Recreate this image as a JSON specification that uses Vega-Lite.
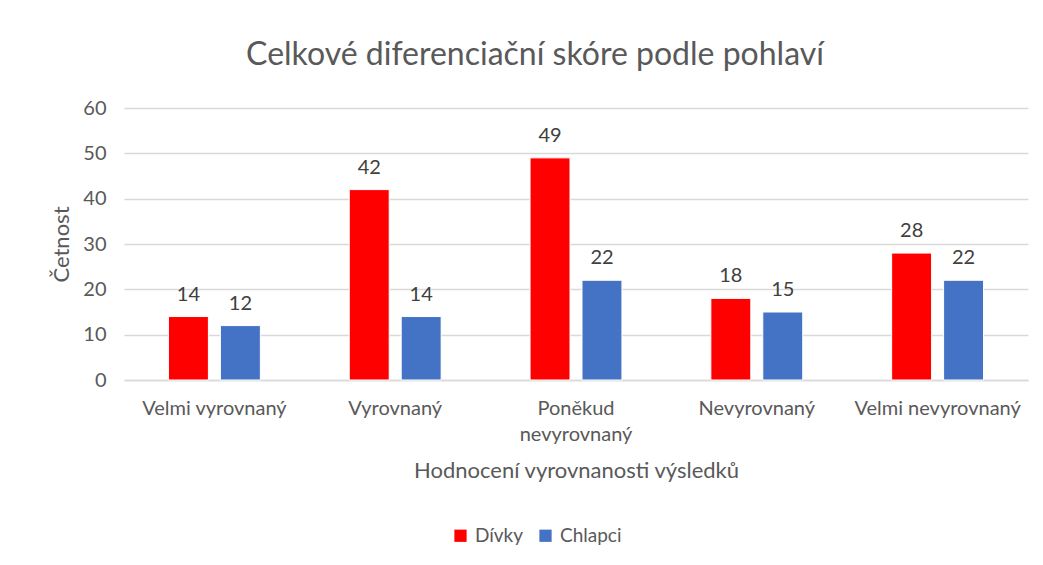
{
  "$schema": "https://vega.github.io/schema/vega-lite/v6.json",
  "width": 904,
  "height": 272,
  "autosize": {"type": "none"},
  "padding": {"left": 124, "top": 108, "right": 15, "bottom": 185},
  "background": "white",
  "config": {
    "font": "Lato",
    "view": {"stroke": null},
    "axis": {"labelColor": "#595959", "titleColor": "#595959", "labelFont": "Lato", "titleFont": "Lato"}
  },
  "title": {
    "text": "Celkové diferenciační skóre podle pohlaví",
    "fontSize": 32,
    "font": "Lato",
    "fontWeight": "normal",
    "color": "#595959",
    "anchor": "middle",
    "dx": -41,
    "offset": 26
  },
  "data": {
    "values": [
      {"kategorie": "Velmi vyrovnaný", "pohlavi": "Dívky", "cetnost": 14},
      {"kategorie": "Velmi vyrovnaný", "pohlavi": "Chlapci", "cetnost": 12},
      {"kategorie": "Vyrovnaný", "pohlavi": "Dívky", "cetnost": 42},
      {"kategorie": "Vyrovnaný", "pohlavi": "Chlapci", "cetnost": 14},
      {"kategorie": "Poněkud nevyrovnaný", "pohlavi": "Dívky", "cetnost": 49},
      {"kategorie": "Poněkud nevyrovnaný", "pohlavi": "Chlapci", "cetnost": 22},
      {"kategorie": "Nevyrovnaný", "pohlavi": "Dívky", "cetnost": 18},
      {"kategorie": "Nevyrovnaný", "pohlavi": "Chlapci", "cetnost": 15},
      {"kategorie": "Velmi nevyrovnaný", "pohlavi": "Dívky", "cetnost": 28},
      {"kategorie": "Velmi nevyrovnaný", "pohlavi": "Chlapci", "cetnost": 22}
    ]
  },
  "encoding": {
    "x": {
      "field": "kategorie",
      "type": "nominal",
      "sort": ["Velmi vyrovnaný", "Vyrovnaný", "Poněkud nevyrovnaný", "Nevyrovnaný", "Velmi nevyrovnaný"],
      "scale": {"paddingInner": 0, "paddingOuter": 0},
      "axis": {
        "title": "Hodnocení vyrovnanosti výsledků",
        "titleFontSize": 22,
        "titleFontWeight": "normal",
        "titlePadding": 16,
        "labelAngle": 0,
        "labelFontSize": 20,
        "labelPadding": 18,
        "labelLineHeight": 26,
        "labelBaseline": "top",
        "labelExpr": "datum.label == 'Poněkud nevyrovnaný' ? ['Poněkud', 'nevyrovnaný'] : datum.label",
        "ticks": false,
        "domainColor": "#D9D9D9",
        "domainWidth": 1.5,
        "grid": false
      }
    },
    "xOffset": {
      "field": "pohlavi",
      "type": "nominal",
      "sort": ["Dívky", "Chlapci"],
      "scale": {"paddingInner": 0.2308, "paddingOuter": 0.8558}
    },
    "y": {
      "field": "cetnost",
      "type": "quantitative",
      "scale": {"domain": [0, 60], "nice": false},
      "axis": {
        "title": "Četnost",
        "titleFontSize": 22,
        "titleFontWeight": "normal",
        "titlePadding": 9,
        "labelFontSize": 20,
        "labelPadding": 18,
        "values": [0, 10, 20, 30, 40, 50, 60],
        "labelOverlap": false,
        "ticks": false,
        "domain": false,
        "gridColor": "#D9D9D9",
        "gridWidth": 1.5
      }
    }
  },
  "layer": [
    {
      "mark": {"type": "bar", "stroke": "white", "strokeWidth": 1},
      "encoding": {
        "color": {
          "field": "pohlavi",
          "type": "nominal",
          "sort": ["Dívky", "Chlapci"],
          "scale": {"domain": ["Dívky", "Chlapci"], "range": ["#FF0000", "#4472C4"]},
          "legend": {
            "title": null,
            "orient": "none",
            "direction": "horizontal",
            "legendX": 327,
            "legendY": 418,
            "symbolType": "square",
            "symbolSize": 150,
            "symbolStrokeWidth": 0,
            "labelFontSize": 19,
            "labelColor": "#595959",
            "labelFont": "Lato",
            "columnPadding": 12,
            "labelOffset": 5
          }
        }
      }
    },
    {
      "mark": {"type": "text", "dy": -22, "fontSize": 20, "color": "#404040", "font": "Lato"},
      "encoding": {
        "text": {"field": "cetnost", "type": "quantitative"}
      }
    }
  ]
}
